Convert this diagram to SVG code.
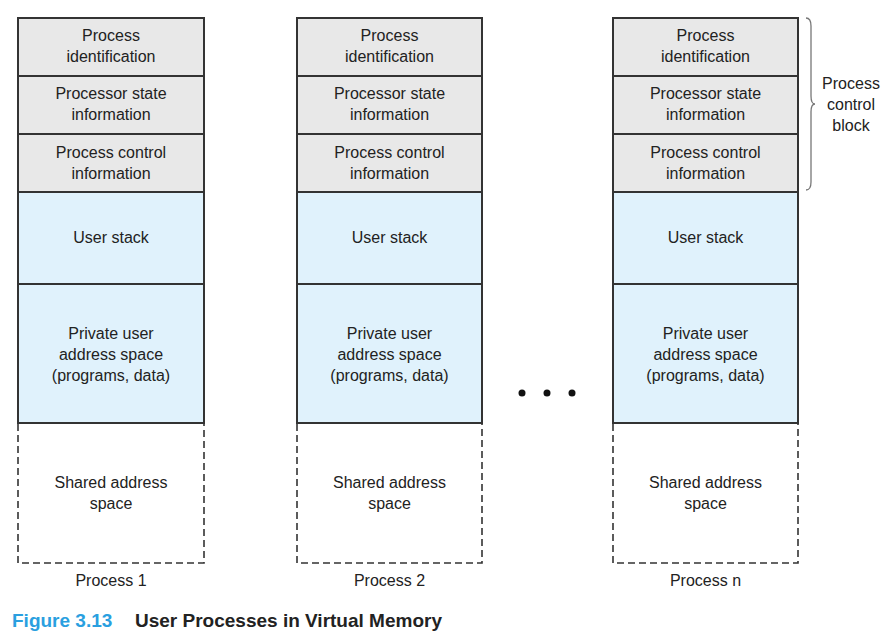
<svg xmlns="http://www.w3.org/2000/svg" width="888" height="640" viewBox="0 0 888 640">
<style>
.pcb{fill:#e8e8e8;stroke:#333;stroke-width:2}
.usr{fill:#e0f2fc;stroke:#333;stroke-width:2}
.shr{fill:#fff;stroke:#333;stroke-width:1.6;stroke-dasharray:7,4}
text{font-family:"Liberation Sans",Arial,sans-serif;font-size:16px;fill:#222;text-anchor:middle}
.cap{font-size:19px;font-weight:bold;text-anchor:start}
</style>
<rect width="888" height="640" fill="#fff"/>
<g id="process1">
<rect class="pcb" x="18" y="18" width="186" height="58"/>
<rect class="pcb" x="18" y="76" width="186" height="58"/>
<rect class="pcb" x="18" y="134" width="186" height="58"/>
<rect class="usr" x="18" y="192" width="186" height="92"/>
<rect class="usr" x="18" y="284" width="186" height="139"/>
<path class="shr" d="M18,424 V563 H204 V424"/>
<text x="111" y="41">Process</text><text x="111" y="62">identification</text>
<text x="111" y="99">Processor state</text><text x="111" y="120">information</text>
<text x="111" y="158">Process control</text><text x="111" y="179">information</text>
<text x="111" y="243">User stack</text>
<text x="111" y="339">Private user</text><text x="111" y="360">address space</text><text x="111" y="381">(programs, data)</text>
<text x="111" y="488">Shared address</text><text x="111" y="509">space</text>
<text x="111" y="586">Process 1</text>
</g>
<g id="process2">
<rect class="pcb" x="297" y="18" width="185" height="58"/>
<rect class="pcb" x="297" y="76" width="185" height="58"/>
<rect class="pcb" x="297" y="134" width="185" height="58"/>
<rect class="usr" x="297" y="192" width="185" height="92"/>
<rect class="usr" x="297" y="284" width="185" height="139"/>
<path class="shr" d="M297,424 V563 H482 V424"/>
<text x="389.5" y="41">Process</text><text x="389.5" y="62">identification</text>
<text x="389.5" y="99">Processor state</text><text x="389.5" y="120">information</text>
<text x="389.5" y="158">Process control</text><text x="389.5" y="179">information</text>
<text x="389.5" y="243">User stack</text>
<text x="389.5" y="339">Private user</text><text x="389.5" y="360">address space</text><text x="389.5" y="381">(programs, data)</text>
<text x="389.5" y="488">Shared address</text><text x="389.5" y="509">space</text>
<text x="389.5" y="586">Process 2</text>
</g>
<g id="ellipsis">
<circle cx="522" cy="393" r="3.5" fill="#111"/>
<circle cx="547" cy="393" r="3.5" fill="#111"/>
<circle cx="572" cy="393" r="3.5" fill="#111"/>
</g>
<g id="processn">
<rect class="pcb" x="613" y="18" width="185" height="58"/>
<rect class="pcb" x="613" y="76" width="185" height="58"/>
<rect class="pcb" x="613" y="134" width="185" height="58"/>
<rect class="usr" x="613" y="192" width="185" height="92"/>
<rect class="usr" x="613" y="284" width="185" height="139"/>
<path class="shr" d="M613,424 V563 H798 V424"/>
<text x="705.5" y="41">Process</text><text x="705.5" y="62">identification</text>
<text x="705.5" y="99">Processor state</text><text x="705.5" y="120">information</text>
<text x="705.5" y="158">Process control</text><text x="705.5" y="179">information</text>
<text x="705.5" y="243">User stack</text>
<text x="705.5" y="339">Private user</text><text x="705.5" y="360">address space</text><text x="705.5" y="381">(programs, data)</text>
<text x="705.5" y="488">Shared address</text><text x="705.5" y="509">space</text>
<text x="705.5" y="586">Process n</text>
</g>
<g id="pcb-brace">
<path d="M806,18 Q811,18 811,26 V96 Q811,104 815,104 Q811,104 811,112 V182 Q811,190 806,190" fill="none" stroke="#777" stroke-width="1.3"/>
<text x="851" y="89">Process</text><text x="851" y="110">control</text><text x="851" y="131">block</text>
</g>
<g id="caption">
<text class="cap" x="12" y="627" style="fill:#2a9fe0">Figure 3.13</text>
<text class="cap" x="135" y="627">User Processes in Virtual Memory</text>
</g>
</svg>
